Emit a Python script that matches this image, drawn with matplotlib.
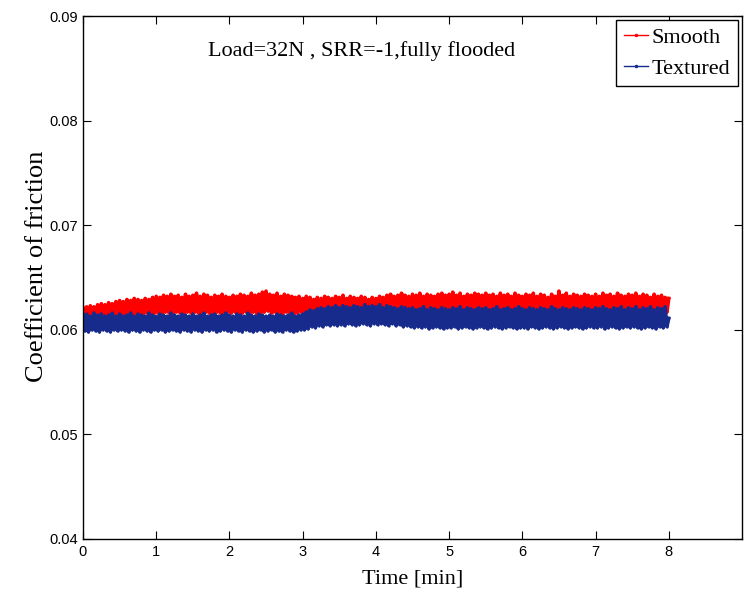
import numpy as np
import matplotlib
matplotlib.use("Agg")
import matplotlib.pyplot as plt

# friction coefficient samples, in units of 1e-4, one every 0.025 min
dt = 0.025
smooth = [
    621, 613, 622, 612, 623, 614, 622, 613, 624, 614, 625, 613, 624, 615, 626, 614, 625, 615, 627, 614,
    628, 615, 627, 614, 629, 616, 628, 615, 630, 614, 629, 616, 628, 615, 630, 616, 629, 615, 631, 616,
    632, 616, 631, 615, 633, 617, 632, 616, 634, 615, 632, 617, 633, 616, 631, 615, 634, 617, 632, 616,
    633, 617, 635, 616, 632, 615, 634, 617, 633, 616, 631, 615, 633, 617, 632, 616, 634, 615, 632, 617,
    631, 616, 633, 617, 632, 615, 634, 616, 633, 617, 632, 616, 635, 617, 633, 615, 634, 616, 636, 617,
    637, 618, 634, 616, 633, 617, 635, 616, 632, 615, 634, 617, 633, 616, 632, 615, 631, 616, 632, 617,
    630, 615, 632, 616, 631, 615, 629, 616, 631, 617, 630, 616, 632, 617, 631, 616, 630, 617, 632, 618,
    631, 617, 633, 618, 630, 617, 632, 618, 631, 617, 630, 616, 632, 618, 631, 617, 629, 618, 631, 617,
    630, 617, 632, 618, 631, 617, 633, 618, 634, 619, 632, 618, 633, 617, 635, 618, 633, 619, 632, 618,
    634, 618, 633, 619, 635, 617, 632, 618, 634, 619, 633, 618, 632, 617, 634, 619, 635, 618, 633, 617,
    634, 618, 636, 619, 633, 618, 635, 619, 632, 618, 634, 617, 633, 619, 635, 618, 634, 619, 633, 618,
    635, 619, 633, 618, 634, 617, 632, 618, 635, 619, 633, 618, 634, 619, 632, 618, 635, 619, 633, 617,
    632, 618, 634, 619, 633, 617, 635, 618, 632, 619, 634, 618, 633, 617, 631, 618, 634, 619, 632, 618,
    637, 619, 633, 618, 635, 619, 632, 617, 634, 618, 633, 619, 632, 618, 634, 617, 633, 619, 632, 618,
    634, 618, 632, 619, 635, 618, 633, 617, 634, 619, 632, 618, 635, 619, 633, 618, 632, 617, 634, 619,
    633, 618, 635, 619, 632, 617, 634, 618, 633, 619, 631, 618, 634, 619, 632, 617, 633, 618, 631, 617,
    630,
]
textured = [
    614, 599, 615, 598, 613, 600, 616, 599, 614, 598, 615, 600, 613, 599, 614, 598, 616, 600, 613, 599,
    615, 600, 613, 599, 614, 598, 616, 600, 613, 599, 615, 598, 614, 600, 613, 599, 616, 598, 614, 600,
    613, 599, 615, 600, 614, 598, 613, 599, 616, 600, 614, 599, 613, 598, 615, 600, 614, 599, 613, 598,
    615, 600, 613, 599, 614, 598, 616, 600, 613, 599, 614, 600, 615, 598, 613, 599, 614, 600, 616, 599,
    614, 598, 613, 600, 615, 599, 614, 598, 613, 600, 616, 599, 614, 598, 613, 599, 615, 600, 614, 598,
    613, 599, 614, 600, 613, 598, 615, 599, 614, 598, 613, 600, 614, 599, 616, 598, 613, 599, 614, 600,
    615, 600, 617, 601, 619, 603, 618, 602, 620, 604, 621, 603, 620, 605, 622, 604, 621, 605, 623, 604,
    621, 605, 623, 604, 622, 606, 621, 605, 623, 604, 622, 605, 621, 606, 624, 605, 622, 604, 623, 606,
    622, 605, 624, 606, 621, 605, 623, 604, 622, 606, 621, 604, 620, 605, 622, 603, 621, 604, 620, 603,
    621, 602, 619, 603, 620, 602, 622, 603, 619, 601, 621, 602, 620, 603, 619, 602, 621, 601, 620, 602,
    619, 602, 621, 603, 620, 601, 622, 602, 619, 603, 621, 602, 620, 601, 619, 602, 621, 603, 620, 602,
    621, 601, 619, 602, 620, 603, 622, 602, 619, 601, 620, 602, 621, 603, 619, 602, 620, 601, 622, 602,
    620, 602, 619, 601, 621, 603, 620, 602, 619, 601, 621, 602, 620, 603, 619, 602, 622, 601, 620, 602,
    619, 603, 621, 602, 620, 601, 619, 602, 621, 603, 620, 602, 619, 601, 621, 602, 620, 603, 619, 602,
    621, 602, 620, 603, 622, 601, 620, 602, 619, 603, 621, 602, 620, 601, 622, 602, 619, 603, 621, 602,
    620, 603, 622, 602, 619, 601, 621, 602, 620, 603, 622, 602, 619, 601, 621, 603, 620, 602, 622, 603,
    611,
]
xticks = [0, 1, 2, 3, 4, 5, 6, 7, 8]
yticks = [0.04, 0.05, 0.06, 0.07, 0.08, 0.09]

t_s = np.arange(len(smooth)) * dt
t_t = np.arange(len(textured)) * dt
mu_s = np.array(smooth) * 1e-4
mu_t = np.array(textured) * 1e-4

fig = plt.figure(figsize=(7.51, 5.89), dpi=100)
ax = fig.add_axes([0.1105, 0.0849, 0.8775, 0.8879])

ax.plot(t_s, mu_s, color="#ff0000", lw=2.6, marker=".", ms=1, label="Smooth")
ax.plot(t_t, mu_t, color="#172b8c", lw=2.6, marker=".", ms=1, label="Textured")

ax.set_xlim(0, 9)
ax.set_ylim(0.04, 0.09)
ax.set_xticks(xticks)
ax.set_yticks(yticks)
ax.set_xticklabels([str(v) for v in xticks])
ax.set_yticklabels(["%.2f" % v for v in yticks])
ax.tick_params(direction="in", length=6, width=0.8, top=True, right=True,
               labelsize=10.5)
ax.tick_params(axis="x", pad=4)
for lab in ax.get_xticklabels() + ax.get_yticklabels():
    lab.set_family("Liberation Sans")
for s in ax.spines.values():
    s.set_linewidth(1.0)

ax.set_xlabel("Time [min]", family="Liberation Serif", fontsize=16, labelpad=8)
ax.set_ylabel("Coefficient of friction", family="Liberation Serif", fontsize=19)
ax.yaxis.set_label_coords(-0.053, 0.522)

ax.text(0.422, 0.933, "Load=32N , SRR=-1,fully flooded", transform=ax.transAxes,
        ha="center", va="center", family="Liberation Serif", fontsize=16)

leg = ax.legend(loc="upper right", bbox_to_anchor=(0.994, 0.993), borderaxespad=0,
                prop={"family": "Liberation Serif", "size": 16}, fancybox=False,
                edgecolor="black", framealpha=1, handlelength=1.1, handletextpad=0.15,
                numpoints=1, borderpad=0.35, labelspacing=0.45)
leg.get_frame().set_linewidth(1.0)
for h in leg.get_lines():
    h.set_linewidth(1.0)
    h.set_markersize(3)

fig.savefig("out.png", dpi=100)
